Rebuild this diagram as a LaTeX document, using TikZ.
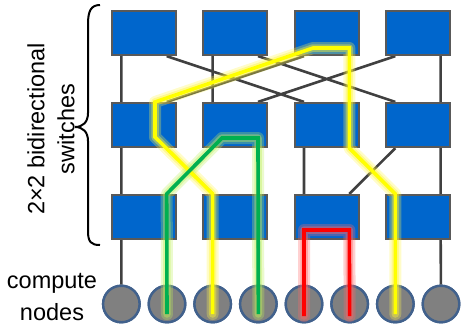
\documentclass[tikz,border=0pt]{standalone}
\usepackage{fontspec}
\setmainfont{Liberation Sans}
\usetikzlibrary{calc}
\definecolor{boxblue}{RGB}{0,102,204}
\definecolor{boxedge}{RGB}{89,89,89}
\definecolor{wiregray}{RGB}{64,64,64}
\definecolor{nodegray}{RGB}{128,128,128}
\definecolor{nodeedge}{RGB}{65,97,140}
\definecolor{pathyellow}{RGB}{255,255,0}
\definecolor{pathgreen}{RGB}{0,176,80}
\definecolor{pathred}{RGB}{255,0,0}
\definecolor{glowgreen}{RGB}{190,240,90}
\tikzset{
  swbox/.style={draw=boxedge, fill=boxblue, line width=2.2pt, minimum width=64pt, minimum height=44pt, inner sep=0pt},
  cnode/.style={circle, draw=nodeedge, fill=nodegray, line width=2.4pt, minimum size=36.5pt, inner sep=0pt},
  wire/.style={draw=wiregray, line width=2.6pt},
  glowA/.style={line width=12pt, opacity=0.3, line join=round, line cap=round},
  glowB/.style={line width=7.5pt, opacity=0.4, line join=round, line cap=round},
  hl/.style={line width=3.6pt, line join=miter},
  lbl/.style={font=\fontsize{23.5}{30}\selectfont, align=center, inner sep=0pt},
  lblb/.style={font=\fontsize{23.5}{32}\selectfont, align=center, inner sep=0pt}
}
\begin{document}
\begin{tikzpicture}[x=1pt,y=-1pt]
\useasboundingbox (0,0) rectangle (462,325);
% switches
\foreach \r in {1,2,3} {
  \foreach \c in {1,2,3,4} {
    \node[swbox] (s\r\c) at ({144+(\c-1)*91.333},{33+(\r-1)*92}) {};
  }
}
% compute nodes
\foreach \i in {1,...,8} {
  \node[cnode] (c\i) at ({121.33+(\i-1)*45.667},304) {};
}
% port coordinates
\foreach \r in {1,2,3} {
  \foreach \c in {1,2,3,4} {
    \coordinate (s\r\c-tl) at ([xshift=-22.67pt]s\r\c.north);
    \coordinate (s\r\c-tr) at ([xshift=22.67pt]s\r\c.north);
    \coordinate (s\r\c-bl) at ([xshift=-22.67pt]s\r\c.south);
    \coordinate (s\r\c-br) at ([xshift=22.67pt]s\r\c.south);
  }
}
% wires
\path[wire]
  (s11-bl) -- (s21-tl)
  (s12-bl) -- (s22-tl)
  (s13-br) -- (s23-tr)
  (s14-br) -- (s24-tr)
  (s11-br) -- (s23-tl)
  (s12-br) -- (s24-tl)
  (s13-bl) -- (s21-tr)
  (s14-bl) -- (s22-tr)
  (s21-bl) -- (s31-tl)
  (s22-br) -- (s32-tr)
  (s23-bl) -- (s33-tl)
  (s24-br) -- (s34-tr)
  (s21-br) -- (s32-tl)
  (s22-bl) -- (s31-tr)
  (s23-br) -- (s34-tl)
  (s24-bl) -- (s33-tr)
  (s31-bl) -- (c1)
  (s31-br) -- (c2)
  (s32-bl) -- (c3)
  (s32-br) -- (c4)
  (s33-bl) -- (c5)
  (s33-br) -- (c6)
  (s34-bl) -- (c7)
  (s34-br) -- (c8);
% redraw boxes and circles over wires
\foreach \r in {1,2,3} {
  \foreach \c in {1,2,3,4} {
    \node[swbox] at (s\r\c) {};
  }
}
\foreach \i in {1,...,8} {
  \node[cnode] at (c\i) {};
}
% highlighted routes
\coordinate (y0) at ([yshift=-10pt]c3.center);
\coordinate (y9) at ([yshift=-10pt]c7.center);
\coordinate (g0) at ([yshift=-10pt]c2.center);
\coordinate (g9) at ([yshift=-10pt]c4.center);
\coordinate (r0) at ([yshift=-12pt]c5.center);
\coordinate (r9) at ([yshift=-12pt]c6.center);
\def\yellowroute{(y0) -- (s32-tl) -- (155,137) -- (155,102) -- (313,48) -- (349.3,48) -- (s23-br) -- (s34-tl) -- (y9)}
\def\greenroute{(g0) -- (s31-tr) -- (222,138) -- (258,138) -- (g9)}
\def\redroute{(r0) -- (304,230) -- (349.3,230) -- (r9)}
\draw[glowA, color=yellow!70!white] \yellowroute;
\draw[glowB, color=yellow!80!white] \yellowroute;
\draw[glowA, color=glowgreen] \greenroute;
\draw[glowB, color=glowgreen] \greenroute;
\draw[glowA, color=red!60!white] \redroute;
\draw[glowB, color=red!60!white] \redroute;
\draw[hl, pathyellow] \yellowroute;
\draw[hl, pathgreen] \greenroute;
\draw[hl, pathred] \redroute;
% brace
\draw[line width=2pt] (100,5) .. controls (91,5) and (88,11) .. (88,24) -- (88,113) .. controls (88,122) and (83,127) .. (75,127) .. controls (83,127) and (88,132) .. (88,141) -- (88,231) .. controls (88,242) and (91,245) .. (100,245);
% labels
\node[lbl, rotate=90] (swlabel) at (51,129) {2×2 bidirectional\\switches};
\node[lblb] (cnlabel) at (52,297) {compute\\nodes};
\end{tikzpicture}
\end{document}
